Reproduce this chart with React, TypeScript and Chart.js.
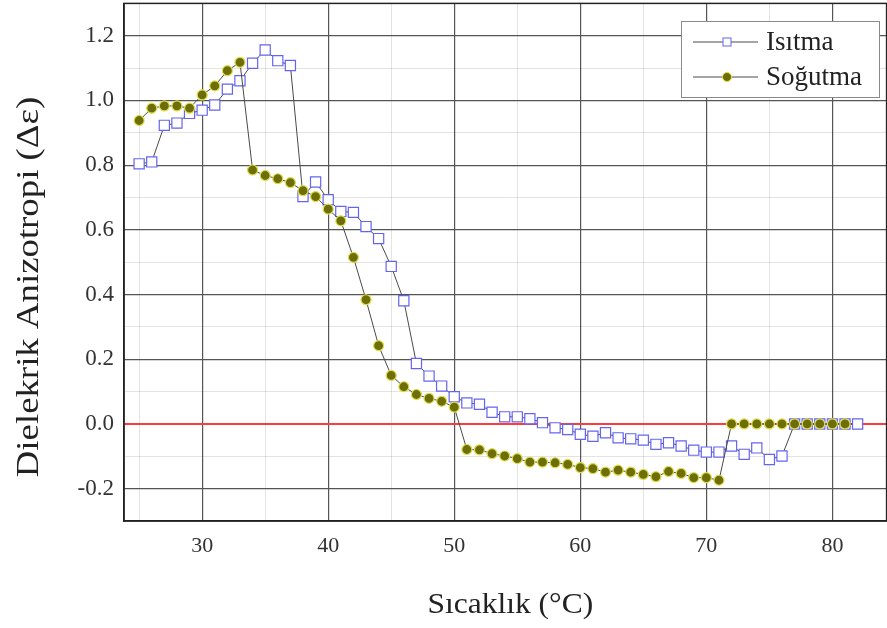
import React, { useEffect, useRef } from "react";
import { Chart, registerables } from "chart.js";

Chart.register(...registerables);

const heatingTemps = [25, 26, 27, 28, 29, 30, 31, 32, 33, 34, 35, 36, 37, 38, 39, 40, 41, 42, 43, 44, 45, 46, 47, 48, 49, 50, 51, 52, 53, 54, 55, 56, 57, 58, 59, 60, 61, 62, 63, 64, 65, 66, 67, 68, 69, 70, 71, 72, 73, 74, 75, 76, 77, 78, 79, 80, 81, 82];
const heatingValues = [0.804, 0.81, 0.923, 0.93, 0.96, 0.97, 0.986, 1.035, 1.061, 1.115, 1.156, 1.123, 1.108, 0.703, 0.748, 0.693, 0.657, 0.654, 0.61, 0.573, 0.487, 0.381, 0.187, 0.148, 0.117, 0.084, 0.065, 0.061, 0.036, 0.022, 0.022, 0.016, 0.004, -0.012, -0.017, -0.032, -0.038, -0.027, -0.043, -0.046, -0.05, -0.063, -0.058, -0.068, -0.081, -0.087, -0.087, -0.068, -0.094, -0.074, -0.11, -0.099, 0, 0, 0, 0, 0, 0];

const coolingTemps = [25, 26, 27, 28, 29, 30, 31, 32, 33, 34, 35, 36, 37, 38, 39, 40, 41, 42, 43, 44, 45, 46, 47, 48, 49, 50, 51, 52, 53, 54, 55, 56, 57, 58, 59, 60, 61, 62, 63, 64, 65, 66, 67, 68, 69, 70, 71, 72, 73, 74, 75, 76, 77, 78, 79, 80, 81];
const coolingValues = [0.938, 0.976, 0.983, 0.983, 0.976, 1.017, 1.045, 1.092, 1.118, 0.785, 0.768, 0.758, 0.746, 0.721, 0.703, 0.664, 0.628, 0.515, 0.384, 0.242, 0.15, 0.115, 0.091, 0.079, 0.07, 0.052, -0.079, -0.08, -0.092, -0.099, -0.107, -0.118, -0.118, -0.12, -0.125, -0.135, -0.138, -0.149, -0.143, -0.149, -0.156, -0.163, -0.147, -0.153, -0.166, -0.166, -0.174, 0, 0, 0, 0, 0, 0, 0, 0, 0, 0];

const xTickValues = [25, 30, 35, 40, 45, 50, 55, 60, 65, 70, 75, 80];
const xTickLabels = ["", "30", "", "40", "", "50", "", "60", "", "70", "", "80"];
const yTickValues = [-0.3, -0.2, -0.1, 0, 0.1, 0.2, 0.3, 0.4, 0.5, 0.6, 0.7, 0.8, 0.9, 1.0, 1.1, 1.2, 1.3];
const yTickLabels = ["", "-0.2", "", "0.0", "", "0.2", "", "0.4", "", "0.6", "", "0.8", "", "1.0", "", "1.2", ""];

const seriesNames = ["Isıtma", "Soğutma"];
const xTitle = "Sıcaklık (°C)";
const yTitle = "Dielekrik Anizotropi (Δε)";

const SERIF = "'Liberation Serif', 'DejaVu Serif', serif";
const SQUARE_COLOR = "#6464f0";
const OLIVE = "#6e6e08";
const OLIVE_EDGE = "#dede50";
const LINE_GRAY = "#4a4a4a";

// canvas is slightly larger than the page and shifted so the plot frame lands where the reference has it
const CANVAS_W = 895;
const CANVAS_H = 633;
const SHIFT_Y = 5;

const isMajorY = (v: number) => Math.abs(Math.round(v * 10) % 2) === 0 && Math.abs(v) < 1.25 && v > -0.25;
const isMajorX = (v: number) => Math.round(v) % 10 === 0;

const decorPlugin = {
  id: "decor",
  afterDraw(chart: any) {
    const { ctx, chartArea } = chart;
    const { left, right, top, bottom } = chartArea;
    ctx.save();
    // frame
    ctx.strokeStyle = "#222";
    ctx.lineWidth = 1.5;
    ctx.strokeRect(left, top, right - left, bottom - top);

    ctx.translate(0, SHIFT_Y);
    // legend
    const bx = 681, by = 21, bw = 198, bh = 76;
    ctx.fillStyle = "#fff";
    ctx.fillRect(bx, by, bw, bh);
    ctx.strokeStyle = "#8a8a8a";
    ctx.lineWidth = 1;
    ctx.strokeRect(bx + 0.5, by + 0.5, bw, bh);
    const rows = [42, 77];
    rows.forEach((ry, i) => {
      ctx.strokeStyle = LINE_GRAY;
      ctx.lineWidth = 1;
      ctx.beginPath();
      ctx.moveTo(693, ry);
      ctx.lineTo(758, ry);
      ctx.stroke();
      if (i === 0) {
        ctx.fillStyle = "#fff";
        ctx.fillRect(723, ry - 4, 8, 8);
        ctx.strokeStyle = SQUARE_COLOR;
        ctx.lineWidth = 1;
        ctx.strokeRect(723, ry - 4, 8, 8);
      } else {
        ctx.beginPath();
        ctx.arc(727, ry, 4.5, 0, Math.PI * 2);
        ctx.fillStyle = OLIVE;
        ctx.fill();
        ctx.strokeStyle = OLIVE_EDGE;
        ctx.lineWidth = 1;
        ctx.stroke();
      }
      ctx.fillStyle = "#222";
      ctx.font = `27px ${SERIF}`;
      ctx.textAlign = "left";
      ctx.textBaseline = "middle";
      ctx.fillText(seriesNames[i], 766, ry + 1);
    });

    // y title
    ctx.save();
    ctx.translate(30, 287);
    ctx.rotate(-Math.PI / 2);
    ctx.scale(1.15, 1);
    ctx.fillStyle = "#222";
    ctx.font = `32px ${SERIF}`;
    ctx.textAlign = "center";
    ctx.textBaseline = "middle";
    ctx.fillText(yTitle, 0, 0);
    ctx.restore();

    // x title
    ctx.save();
    ctx.translate((left + right) / 2 + 5, 605);
    ctx.scale(1.05, 1);
    ctx.fillStyle = "#222";
    ctx.font = `30px ${SERIF}`;
    ctx.textAlign = "center";
    ctx.textBaseline = "middle";
    ctx.fillText(xTitle, 0, 0);
    ctx.restore();
    ctx.restore();
  },
};

export default function App() {
  const ref = useRef<HTMLCanvasElement | null>(null);
  useEffect(() => {
    if (!ref.current) return;
    const chart = new Chart(ref.current, {
      type: "line",
      data: {
        datasets: [
          {
            label: seriesNames[1],
            data: coolingTemps.map((t, i) => ({ x: t, y: coolingValues[i] })),
            borderColor: LINE_GRAY,
            borderWidth: 1,
            pointStyle: "circle",
            pointRadius: 5,
            pointBackgroundColor: OLIVE,
            pointBorderColor: OLIVE_EDGE,
            pointBorderWidth: 1.2,
            tension: 0,
            fill: false,
          },
          {
            label: seriesNames[0],
            data: heatingTemps.map((t, i) => ({ x: t, y: heatingValues[i] })),
            borderColor: LINE_GRAY,
            borderWidth: 1,
            pointStyle: "rect",
            pointRadius: 7.2,
            pointBackgroundColor: "#ffffff",
            pointBorderColor: SQUARE_COLOR,
            pointBorderWidth: 1.2,
            tension: 0,
            fill: false,
          },
        ],
      },
      options: {
        responsive: false,
        animation: false,
        layout: { padding: 0 },
        plugins: { legend: { display: false }, tooltip: { enabled: false }, title: { display: false } },
        scales: {
          x: {
            type: "linear",
            min: 23.8,
            max: 84.3,
            afterBuildTicks: (s: any) => {
              s.ticks = xTickValues.map((v) => ({ value: v }));
            },
            afterFit: (s: any) => {
              s.height = 107;
              s.paddingLeft = 0;
              s.paddingRight = 0;
            },
            ticks: {
              callback: (v: any) => {
                const i = xTickValues.indexOf(Number(v));
                return i >= 0 ? xTickLabels[i] : "";
              },
              font: { family: SERIF, size: 22 },
              color: "#333",
              padding: 12,
              maxRotation: 0,
              autoSkip: false,
            },
            grid: {
              drawTicks: false,
              color: (c: any) => (isMajorX(c.tick.value) ? "#555" : "rgba(0,0,0,0.11)"),
              lineWidth: (c: any) => (isMajorX(c.tick.value) ? 1.2 : 1),
            },
            border: { display: true, color: "#222", width: 1.5 },
          },
          y: {
            type: "linear",
            min: -0.3,
            max: 1.3,
            afterBuildTicks: (s: any) => {
              s.ticks = yTickValues.map((v) => ({ value: v }));
            },
            afterFit: (s: any) => {
              s.width = 124;
              s.paddingTop = 0;
              s.paddingBottom = 0;
            },
            ticks: {
              callback: (v: any) => {
                const i = yTickValues.findIndex((t) => Math.abs(t - Number(v)) < 1e-6);
                return i >= 0 ? yTickLabels[i] : "";
              },
              font: { family: SERIF, size: 23 },
              color: "#333",
              padding: 10,
              autoSkip: false,
            },
            grid: {
              drawTicks: false,
              color: (c: any) => {
                const v = c.tick.value;
                if (Math.abs(v) < 1e-6) return "#ff3b3b";
                return isMajorY(v) ? "#555" : "rgba(0,0,0,0.11)";
              },
              lineWidth: (c: any) => {
                const v = c.tick.value;
                if (Math.abs(v) < 1e-6) return 2;
                return isMajorY(v) ? 1.2 : 1;
              },
            },
            border: { display: true, color: "#222", width: 1.5 },
          },
        },
      },
      plugins: [decorPlugin],
    });
    return () => chart.destroy();
  }, []);
  return (
    <div style={{ position: "absolute", left: 0, top: 0, width: 887, height: 628, background: "#fff", overflow: "hidden" }}>
      <canvas
        ref={ref}
        width={CANVAS_W}
        height={CANVAS_H}
        style={{ position: "absolute", left: 0, top: -SHIFT_Y, width: CANVAS_W, height: CANVAS_H, display: "block" }}
      />
    </div>
  );
}
